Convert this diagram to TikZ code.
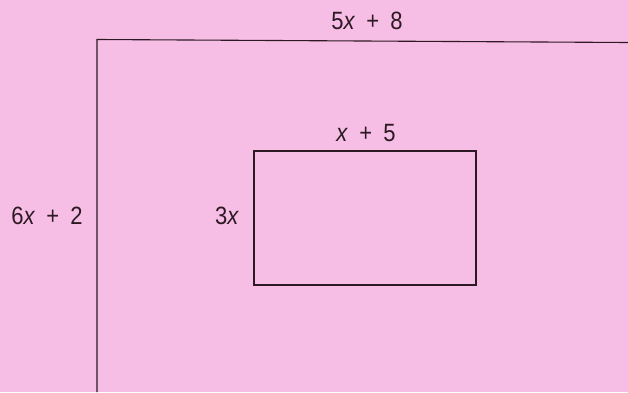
\documentclass[tikz,border=0pt]{standalone}
\usepackage{fontspec}
\setmainfont{Liberation Sans}[FakeStretch=0.88]
\definecolor{paper}{RGB}{246,190,228}
\definecolor{ink}{RGB}{45,25,35}
\newcommand{\plusgap}{\hspace{.45em}+\hspace{.45em}}
\tikzset{
  side/.style={inner sep=0pt,text=ink,font=\fontsize{25}{26}\selectfont},
  edge/.style={draw=ink,line width=1.1pt}
}
\begin{document}
\begin{tikzpicture}[x=1pt,y=1pt]
\fill[paper] (0,0) rectangle (628,392);
\useasboundingbox (0,0) rectangle (628,392);
\draw[edge] (97,0) -- (97,352.5) -- (628,349.5);
\draw[edge] (254,107) rectangle (476,241);
\node[side] (outertop) at (367,371) {5\textit{x}\plusgap 8};
\node[side] (outerleft) at (47,176) {6\textit{x}\plusgap 2};
\node[side] (innertop) at (366,259) {\textit{x}\plusgap 5};
\node[side] (innerleft) at (227,176) {3\textit{x}};
\end{tikzpicture}
\end{document}
